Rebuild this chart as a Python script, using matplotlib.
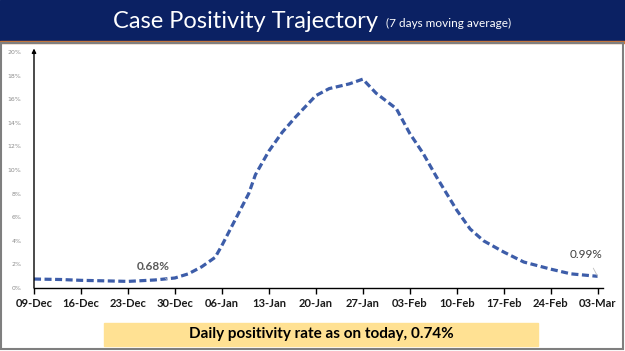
import matplotlib.pyplot as plt
from matplotlib.patches import Rectangle

# days counted from 09-Dec
days = [0, 4, 7, 11, 14, 18, 21, 23, 25, 27, 28, 30, 32, 33, 35, 37, 39, 42,
        44, 47, 49, 51, 54, 56, 58, 60, 63, 65, 67, 70, 73, 77, 80, 84]
positivity = [0.76, 0.72, 0.65, 0.6, 0.56, 0.68, 0.85, 1.2, 1.8, 2.6, 3.6, 5.8,
              8.0, 9.6, 11.6, 13.2, 14.5, 16.3, 16.9, 17.3, 17.7, 16.5, 15.2, 13.1,
              11.4, 9.4, 6.6, 5.0, 4.0, 3.05, 2.2, 1.6, 1.2, 0.99]
tick_days = list(range(0, 85, 7))
tick_labels = ['09-Dec', '16-Dec', '23-Dec', '30-Dec', '06-Jan', '13-Jan', '20-Jan',
               '27-Jan', '03-Feb', '10-Feb', '17-Feb', '24-Feb', '03-Mar']
y_ticks = list(range(0, 21, 2))

W, H = 625, 351
fig = plt.figure(figsize=(6.25, 3.51), dpi=100)
fig.patch.set_facecolor('white')

# slide background pieces
fig.patches.append(Rectangle((0, 1 - 41 / H), 1, 41 / H, transform=fig.transFigure,
                             color='#0B2163', zorder=0))
fig.patches.append(Rectangle((0, 1 - 43 / H), 1, 2 / H, transform=fig.transFigure,
                             color='#C8763A', zorder=0))
fig.patches.append(Rectangle((1.5 / W, 2 / H), 1 - 4 / W, 1 - 43 / H - 2 / H,
                             transform=fig.transFigure, fill=False,
                             edgecolor='#7F7F7F', lw=1.5, zorder=0))
fig.patches.append(Rectangle((104 / W, 1 - 346 / H), 434 / W, 23 / H,
                             transform=fig.transFigure, color='#FFE193', zorder=0))

fig.text(113 / W, 1 - 21 / H, 'Case Positivity Trajectory', color='white',
         fontsize=17, family='Lato', va='center', ha='left')
fig.text(386 / W, 1 - 23 / H, '(7 days moving average)', color='white',
         fontsize=8.5, family='Lato', va='center', ha='left')
fig.text(321 / W, 1 - 334 / H, 'Daily positivity rate as on today, 0.74%',
         color='black', fontsize=11, fontweight='bold', family='Lato',
         va='center', ha='center')

ax = fig.add_axes([34 / W, 63 / H, 569 / W, 236 / H])
ax.set_facecolor('none')
ax.plot(days, positivity, color='#3D5DA9', lw=2.3, ls=(0, (2.2, 1.1)))
ax.set_xlim(0, 84.8)
ax.set_ylim(0, 20)

ax.set_xticks(tick_days)
ax.set_xticklabels(tick_labels, fontsize=8, fontweight='bold', color='#1A1A1A',
                   family='Lato')
ax.set_yticks(y_ticks)
ax.set_yticklabels([f'{v}%' for v in y_ticks], fontsize=4.5, color='#8C8C8C')
ax.tick_params(axis='x', length=4, width=1, direction='out', pad=3)
ax.tick_params(axis='y', length=0, pad=9)
for s in ['top', 'right']:
    ax.spines[s].set_visible(False)
ax.spines['bottom'].set_linewidth(1)
ax.spines['left'].set_visible(False)
ax.annotate('', xy=(0, 20.3), xytext=(0, 0), xycoords='data',
            arrowprops=dict(arrowstyle='-|>', color='black', lw=1,
                            mutation_scale=6, shrinkA=0, shrinkB=0),
            annotation_clip=False)

ax.annotate('0.68%', xy=(19.8, 0.72), xytext=(17.7, 1.85), fontsize=8.5,
            fontweight='bold', color='#595959', ha='center', va='center',
            family='Lato',
            arrowprops=dict(arrowstyle='-', color='#BFBFBF', lw=0.6,
                            shrinkA=4, shrinkB=0))
ax.annotate('0.99%', xy=(84, 0.99), xytext=(82.3, 2.8), fontsize=8.5,
            color='#404040', ha='center', va='center', family='Lato',
            arrowprops=dict(arrowstyle='-', color='#BFBFBF', lw=0.6,
                            shrinkA=4, shrinkB=0))

fig.savefig('out.png', dpi=100)
